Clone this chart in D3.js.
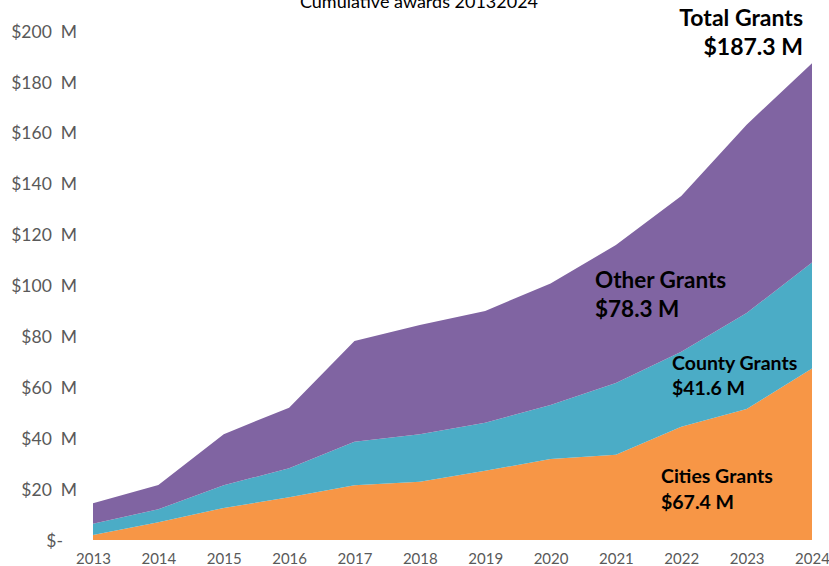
<!DOCTYPE html>
<html>
<head>
<meta charset="utf-8">
<script src="https://cdn.jsdelivr.net/npm/d3@7"></script>
<style>
  body { margin: 0; background: #fff; }
  text { font-family: Lato, "Open Sans", sans-serif; }
</style>
</head>
<body>
<script>
const WIDTH = 829;
const HEIGHT = 566;

// Datos (millones de dólares, acumulados)
const years = [2013, 2014, 2015, 2016, 2017, 2018, 2019, 2020, 2021, 2022, 2023, 2024];
const cities = [2.0, 7.0, 12.6, 16.8, 21.5, 22.9, 27.2, 31.8, 33.5, 44.5, 51.5, 67.4];
const county = [4.4, 5.1, 8.9, 11.4, 17.1, 18.7, 18.9, 21.2, 28.2, 29.5, 37.7, 41.6];
const other = [8.0, 9.5, 20.1, 23.8, 39.6, 42.9, 43.9, 47.8, 54.2, 61.2, 74.0, 78.3];
const yTicks = [0, 20, 40, 60, 80, 100, 120, 140, 160, 180, 200];
const yTickLabels = ["$-", "$20  M", "$40  M", "$60  M", "$80  M", "$100  M", "$120  M", "$140  M", "$160  M", "$180  M", "$200  M"];
const seriesKeys = ["cities", "county", "other"];
const colors = ["#F79646", "#4BACC6", "#8064A2"];

const tabla = years.map((y, i) => ({ year: y, cities: cities[i], county: county[i], other: other[i] }));

const svg = d3.select("body").append("svg")
  .attr("width", WIDTH)
  .attr("height", HEIGHT);

const x = d3.scaleLinear().domain([2013, 2024]).range([93, 812]);
const y = d3.scaleLinear().domain([0, 200]).range([540, 31]);

const apilado = d3.stack().keys(seriesKeys)(tabla);

const area = d3.area()
  .x(d => x(d.data.year))
  .y0(d => y(d[0]))
  .y1(d => y(d[1]));

svg.selectAll("path.capa")
  .data(apilado)
  .join("path")
  .attr("class", "capa")
  .attr("d", area)
  .attr("fill", (d, i) => colors[i]);

// Eje Y
const ejeY = d3.axisLeft(y)
  .tickValues(yTicks)
  .tickSize(0)
  .tickFormat((d, i) => yTickLabels[i]);

svg.append("g")
  .attr("transform", "translate(77,0)")
  .call(ejeY)
  .call(g => g.select(".domain").remove())
  .call(g => g.selectAll("text")
    .attr("x", d => d === 0 ? -14 : 0)
    .attr("fill", "#595959")
    .attr("font-size", 17.5)
    .attr("font-family", "Lato, sans-serif")
    .style("white-space", "pre")
    .attr("dy", "0.35em"));

// Eje X
const ejeX = d3.axisBottom(x)
  .tickValues(years)
  .tickSize(0)
  .tickFormat(d3.format("d"));

svg.append("g")
  .attr("transform", "translate(0,549)")
  .call(ejeX)
  .call(g => g.select(".domain").remove())
  .call(g => g.selectAll("text")
    .attr("y", 0)
    .attr("dy", "1em")
    .attr("fill", "#595959")
    .attr("font-size", 15)
    .attr("font-family", "Lato, sans-serif"));

// Título (cortado arriba como en el original)
svg.append("text")
  .attr("x", 419)
  .attr("y", 8)
  .attr("text-anchor", "middle")
  .attr("font-size", 18)
  .attr("fill", "#000")
  .text("Cumulative awards 20132024");

// Etiquetas
const etiquetas = [
  { lines: ["Total Grants", "$187.3 M"], x: 803, y: 26, dy: 29, size: 23, anchor: "end" },
  { lines: ["Other Grants", "$78.3 M"], x: 595, y: 288, dy: 29, size: 22.5, anchor: "start" },
  { lines: ["County Grants", "$41.6 M"], x: 672, y: 370, dy: 25, size: 19.5, anchor: "start" },
  { lines: ["Cities Grants", "$67.4 M"], x: 661, y: 483, dy: 26, size: 19.5, anchor: "start" }
];

etiquetas.forEach(e => {
  const t = svg.append("text")
    .attr("x", e.x)
    .attr("y", e.y)
    .attr("text-anchor", e.anchor)
    .attr("font-size", e.size)
    .attr("font-weight", "bold")
    .attr("fill", "#000");
  e.lines.forEach((l, i) => {
    t.append("tspan").attr("x", e.x).attr("dy", i === 0 ? 0 : e.dy).text(l);
  });
});
</script>
</body>
</html>
